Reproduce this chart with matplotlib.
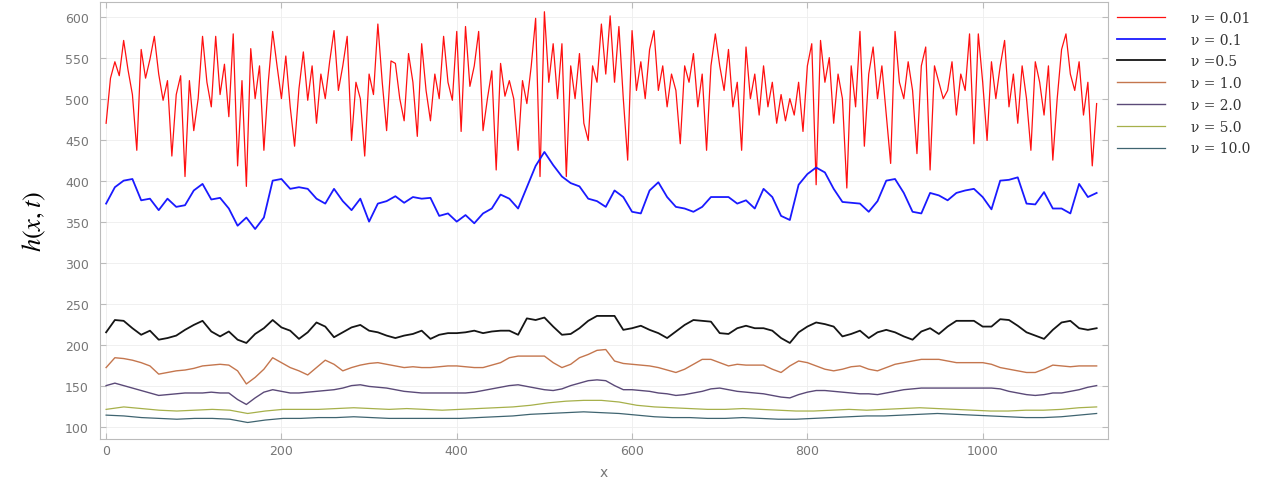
import numpy as np
import matplotlib
matplotlib.use("Agg")
import matplotlib.pyplot as plt

X_END = 1130

# surface height h(x,t) read along x for each viscosity
nu_labels = ["ν = 0.01", "ν = 0.1", "ν =0.5", "ν = 1.0", "ν = 2.0", "ν = 5.0", "ν = 10.0"]

h_001 = [470, 525, 545, 528, 571, 535, 505, 437, 560, 525, 548, 576, 530, 498, 522, 430,
         505, 528, 405, 522, 461, 500, 576, 520, 490, 576, 505, 542, 478, 579, 418, 522,
         393, 561, 500, 540, 437, 520, 582, 540, 500, 552, 490, 442, 512, 557, 498, 540,
         470, 530, 500, 545, 583, 510, 540, 576, 449, 520, 500, 430, 530, 505, 591, 520,
         461, 546, 543, 500, 473, 555, 520, 454, 567, 510, 473, 530, 500, 576, 520, 498,
         582, 460, 588, 515, 540, 582, 461, 500, 534, 413, 543, 503, 522, 500, 437, 522,
         494, 540, 598, 405, 606, 520, 567, 500, 567, 405, 540, 500, 555, 470, 449, 540,
         520, 591, 530, 601, 520, 588, 500, 425, 583, 510, 545, 500, 560, 583, 510, 540,
         490, 530, 510, 445, 540, 520, 555, 490, 530, 437, 540, 579, 540, 510, 560, 490,
         520, 437, 563, 500, 530, 480, 540, 490, 520, 470, 505, 473, 500, 480, 520, 460,
         540, 567, 395, 571, 520, 550, 470, 530, 500, 391, 540, 490, 582, 442, 530, 563,
         500, 540, 480, 421, 582, 520, 500, 545, 510, 433, 540, 563, 413, 540, 520, 500,
         510, 545, 480, 530, 510, 579, 445, 579, 520, 449, 545, 500, 540, 571, 490, 530,
         470, 540, 500, 437, 545, 520, 480, 540, 425, 500, 560, 579, 530, 510, 545, 480,
         520, 418, 494]

h_01 = [372, 392, 400, 402, 376, 378, 364, 378, 368, 370, 388, 396, 377, 379, 366, 345,
        355, 341, 355, 400, 402, 390, 392, 390, 378, 372, 390, 375, 364, 378, 350, 372,
        375, 381, 373, 380, 378, 379, 357, 360, 350, 358, 348, 360, 366, 383, 378, 366,
        392, 418, 435, 419, 405, 397, 393, 378, 375, 368, 388, 380, 362, 360, 388, 398,
        380, 368, 366, 362, 368, 380, 380, 380, 372, 376, 366, 390, 380, 357, 352, 395,
        408, 416, 410, 390, 374, 373, 372, 362, 375, 400, 402, 385, 362, 360, 385, 382,
        376, 385, 388, 390, 380, 365, 400, 401, 404, 372, 371, 386, 366, 366, 360, 396,
        380, 385]

h_05 = [215, 230, 229, 220, 212, 217, 206, 208, 211, 218, 224, 229, 216, 210, 216, 206,
        202, 213, 220, 230, 221, 217, 207, 215, 227, 222, 209, 215, 221, 224, 217, 215,
        211, 208, 211, 213, 217, 207, 212, 214, 214, 215, 217, 214, 216, 217, 217, 212,
        232, 230, 233, 222, 212, 213, 220, 229, 235, 235, 235, 218, 220, 223, 218, 214,
        208, 216, 224, 230, 229, 228, 214, 213, 220, 223, 220, 220, 217, 208, 202, 215,
        222, 227, 225, 222, 210, 213, 217, 208, 215, 218, 215, 210, 206, 216, 220, 213,
        222, 229, 229, 229, 222, 222, 231, 230, 223, 215, 211, 207, 218, 227, 229, 220,
        218, 220]

h_10 = [172, 184, 183, 181, 178, 174, 164, 166, 168, 169, 171, 174, 175, 176, 175, 168,
        152, 160, 170, 184, 178, 172, 168, 163, 172, 181, 176, 168, 172, 175, 177, 178,
        176, 174, 172, 173, 172, 172, 173, 174, 174, 173, 172, 172, 175, 178, 184, 186,
        186, 186, 186, 178, 172, 176, 184, 188, 193, 194, 180, 177, 176, 175, 174, 172,
        169, 166, 170, 176, 182, 182, 178, 174, 176, 175, 175, 175, 170, 166, 174, 180,
        178, 174, 170, 168, 170, 173, 174, 170, 168, 172, 176, 178, 180, 182, 182, 182,
        180, 178, 178, 178, 178, 176, 172, 170, 168, 166, 166, 170, 175, 174, 173, 174,
        174, 174]

h_20 = [150, 153, 150, 147, 144, 141, 138, 139, 140, 141, 141, 141, 142, 141, 141, 133,
        127, 135, 142, 145, 143, 141, 141, 142, 143, 144, 145, 147, 150, 151, 149, 148,
        147, 145, 143, 142, 141, 141, 141, 141, 141, 141, 142, 144, 146, 148, 150, 151,
        149, 147, 145, 144, 146, 150, 153, 156, 157, 156, 150, 145, 145, 144, 143, 141,
        140, 138, 139, 141, 143, 146, 147, 145, 143, 142, 141, 140, 138, 136, 135, 139,
        142, 144, 144, 143, 142, 141, 140, 140, 139, 141, 143, 145, 146, 147, 147, 147,
        147, 147, 147, 147, 147, 147, 146, 143, 141, 139, 138, 139, 141, 141, 143, 145,
        148, 150]

h_50 = [121, 124, 122, 120, 119, 120, 121, 120, 116, 119, 121, 121, 121, 122, 123, 122,
        121, 122, 121, 120, 121, 122, 123, 124, 126, 129, 131, 132, 132, 130, 126, 124,
        123, 122, 121, 121, 122, 121, 120, 119, 119, 120, 121, 120, 121, 122, 123, 122,
        121, 120, 119, 119, 120, 120, 121, 123, 124]

h_100 = [114, 113, 111, 110, 109, 110, 110, 109, 105, 108, 110, 110, 111, 111, 112, 111,
         110, 110, 110, 110, 110, 111, 112, 113, 115, 116, 117, 118, 117, 116, 114, 112,
         111, 111, 110, 110, 111, 110, 109, 109, 110, 111, 112, 113, 113, 114, 115, 116,
         115, 114, 113, 112, 111, 111, 112, 114, 116]

series = [h_001, h_01, h_05, h_10, h_20, h_50, h_100]
colors = ["#ff1010", "#1a1aff", "#151515", "#c4764e", "#5b4a78", "#a6b04a", "#3f6470"]
widths = [0.9, 1.3, 1.3, 1.0, 1.0, 0.9, 0.9]

GREY = "#777777"
fig = plt.figure(figsize=(12.72, 4.85), dpi=100)
ax = fig.add_axes([0.0786, 0.093, 0.7925, 0.901])

for h, c, lw, lab in zip(series, colors, widths, nu_labels):
    x = np.linspace(0, X_END, len(h))
    ax.plot(x, h, color=c, lw=lw, label=lab)

ax.set_xlim(-7, 1143)
ax.set_ylim(85, 618)
ax.set_xticks([0, 200, 400, 600, 800, 1000])
ax.set_xticklabels(["0", "200", "400", "600", "800", "1000"])
ax.set_yticks(np.arange(100, 601, 50))
ax.tick_params(direction="in", length=4, color="#bbbbbb", labelcolor=GREY,
               labelsize=9, top=True, right=True)
ax.tick_params(axis="y", pad=8)
ax.grid(True, color="#eeeeee", lw=0.6)
for s in ax.spines.values():
    s.set_color("#bbbbbb")
    s.set_linewidth(0.8)

ax.set_xlabel("x", color=GREY, fontsize=10, labelpad=6)
ax.set_ylabel(r"$h(x,t)$", fontsize=19, labelpad=12)
ax.yaxis.label.set_math_fontfamily("stix")

leg = ax.legend(loc="upper left", bbox_to_anchor=(0.873, 0.99),
                bbox_transform=fig.transFigure, frameon=False,
                handlelength=3.4, handletextpad=1.9, labelspacing=0.56,
                borderpad=0, prop={"family": "DejaVu Serif", "size": 10})
for t in leg.get_texts():
    t.set_color("#333333")

fig.savefig("out.png", dpi=100)
